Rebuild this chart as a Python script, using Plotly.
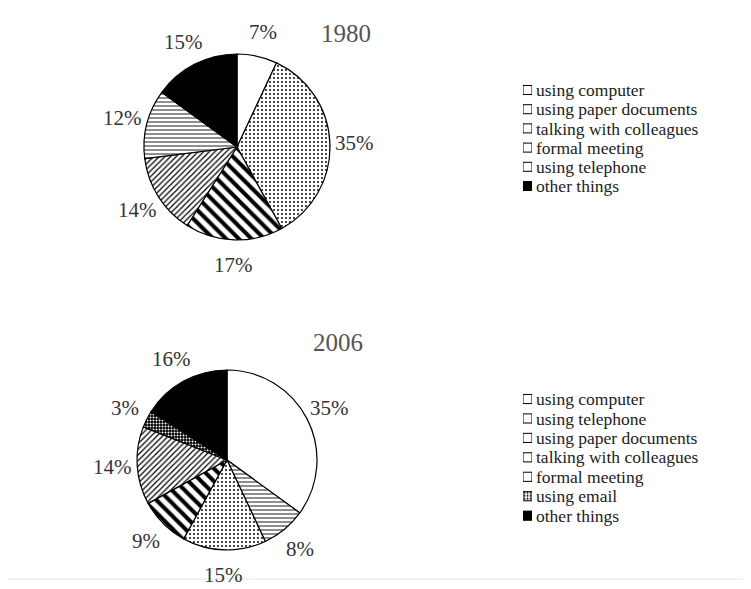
import math
import plotly.graph_objects as go

# page body has an 8px margin, so the figure is made 8px smaller and all
# positions below are given in page pixels and converted with OX/OY.
OX, OY = 8, 8
W, H = 751 - OX, 589 - OY

labels_1980 = ["using computer", "using paper documents", "talking with colleagues",
               "formal meeting", "using telephone", "other things"]
values_1980 = [7, 35, 17, 14, 12, 15]

labels_2006 = ["using computer", "using telephone", "using paper documents",
               "talking with colleagues", "formal meeting", "using email", "other things"]
values_2006 = [35, 8, 15, 9, 14, 3, 16]

titles = ["1980", "2006"]

# fill style per category (black & white hatching)
styles = {
    "using computer":          dict(shape="",   fg="black", bg="white", size=8, sol=0.3),
    "using paper documents":   dict(shape=".",  fg="black", bg="white", size=4, sol=0.18),
    "talking with colleagues": dict(shape="\\", fg="black", bg="white", size=9, sol=0.45),
    "formal meeting":          dict(shape="/",  fg="black", bg="white", size=4, sol=0.3),
    "using telephone":         dict(shape="-",  fg="black", bg="white", size=4, sol=0.22),
    "using email":             dict(shape=".",  fg="white", bg="black", size=3, sol=0.35),
    "other things":            dict(shape="",   fg="black", bg="black", size=8, sol=0.3),
}

SERIF = "Liberation Serif, Times New Roman, serif"


def fx(x):
    return (x - OX) / W


def fy(y):
    return 1 - (y - OY) / H


def marker_for(labels):
    st = [styles[l] for l in labels]
    return dict(
        colors=[s["bg"] for s in st],
        line=dict(color="black", width=1.2),
        pattern=dict(shape=[s["shape"] for s in st],
                     fgcolor=[s["fg"] for s in st],
                     bgcolor=[s["bg"] for s in st],
                     size=[s["size"] for s in st],
                     solidity=[s["sol"] for s in st],
                     fillmode="replace"),
    )


def pie(labels, values, cx, cy, r):
    return go.Pie(
        labels=labels, values=values, sort=False, direction="clockwise", rotation=0,
        domain=dict(x=[fx(cx - r), fx(cx + r)], y=[fy(cy + r), fy(cy - r)]),
        showlegend=False, textinfo="none",
        hoverinfo="label+value",
        marker=marker_for(labels),
    )


def pie_labels(values, cx, cy, r):
    """Percentage labels placed outside each slice at its mid-angle."""
    total = sum(values)
    out, cum = [], 0
    d = r + 25
    for v in values:
        mid = (cum + v / 2) / total
        cum += v
        th = 2 * math.pi * mid
        out.append(dict(text=f"{v}%", x=fx(cx + d * math.sin(th)),
                        y=fy(cy - d * math.cos(th)), xref="paper", yref="paper",
                        xanchor="center", yanchor="middle", showarrow=False,
                        font=dict(family=SERIF, size=21, color="#333")))
    return out


def legend_bars(labels, xa, ya):
    m = marker_for(labels)
    return go.Bar(
        x=[1] * len(labels), y=list(range(len(labels))), orientation="h",
        width=0.47, xaxis=xa, yaxis=ya, showlegend=False, hoverinfo="skip",
        marker=dict(color=m["colors"], line=dict(color="black", width=1),
                    pattern=m["pattern"]),
    )


P1 = (237, 147, 93)
P2 = (227, 460, 90)

fig = go.Figure()
fig.add_trace(pie(labels_1980, values_1980, *P1))
fig.add_trace(pie(labels_2006, values_2006, *P2))
fig.add_trace(legend_bars(labels_1980, "x", "y"))
fig.add_trace(legend_bars(labels_2006, "x2", "y2"))

icon_x = [fx(523), fx(532)]


def yaxis_for(labels, top, bottom, anchor):
    n = len(labels)
    return dict(domain=[fy(bottom), fy(top)], anchor=anchor, side="right",
                range=[n - 0.5, -0.5], tickvals=list(range(n)), ticktext=labels,
                showgrid=False, zeroline=False, showline=False, ticks="",
                ticklabelstandoff=3,
                tickfont=dict(family=SERIF, size=17.5, color="#222"),
                fixedrange=True)


xaxis_common = dict(range=[0, 1], visible=False, showgrid=False, zeroline=False,
                    fixedrange=True)

annotations = pie_labels(values_1980, *P1) + pie_labels(values_2006, *P2) + [
    dict(text=titles[0], x=fx(346), y=fy(33), xref="paper", yref="paper",
         xanchor="center", yanchor="middle", showarrow=False,
         font=dict(family=SERIF, size=25, color="#555")),
    dict(text=titles[1], x=fx(338), y=fy(342), xref="paper", yref="paper",
         xanchor="center", yanchor="middle", showarrow=False,
         font=dict(family=SERIF, size=25, color="#555")),
]

fig.update_layout(
    width=W, height=H,
    margin=dict(l=0, r=0, t=0, b=0),
    paper_bgcolor="white", plot_bgcolor="rgba(0,0,0,0)",
    xaxis=dict(domain=icon_x, anchor="y", **xaxis_common),
    xaxis2=dict(domain=icon_x, anchor="y2", **xaxis_common),
    yaxis=yaxis_for(labels_1980, 80.4, 195.6, "x"),
    yaxis2=yaxis_for(labels_2006, 389.3, 525.4, "x2"),
    annotations=annotations,
    shapes=[dict(type="line", xref="paper", yref="paper", x0=0, x1=1,
                 y0=fy(579), y1=fy(579), line=dict(color="#e6e6e6", width=1))],
)

fig.write_html("out.html")
